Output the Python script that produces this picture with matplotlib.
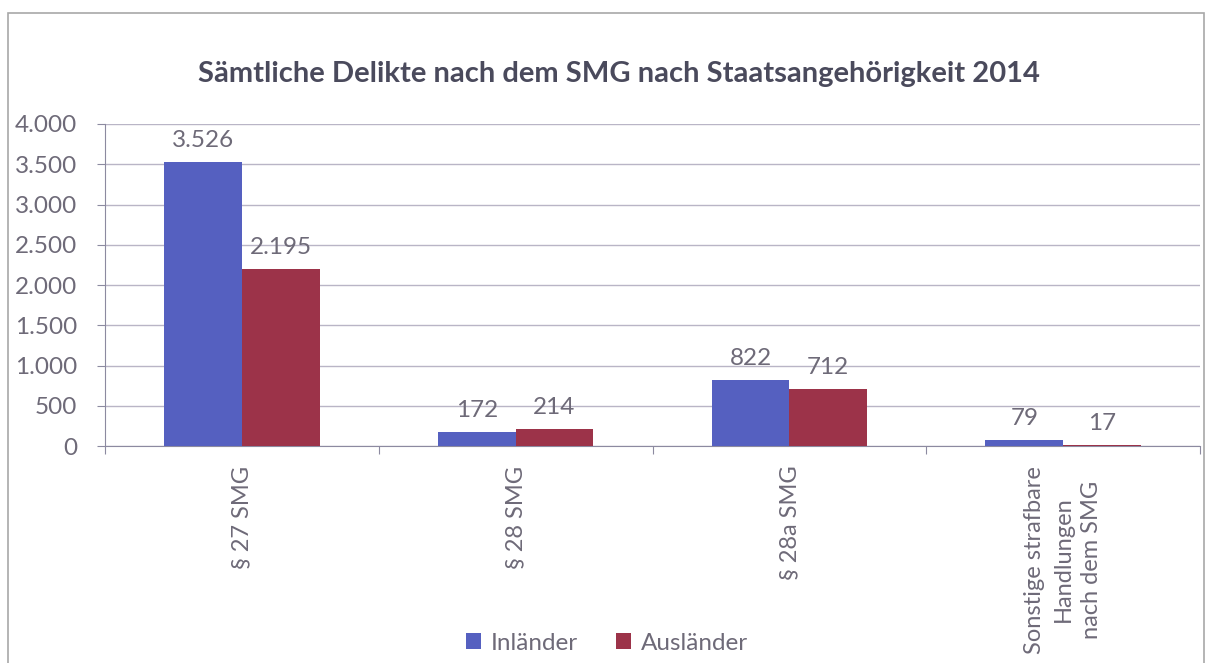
import numpy as np
import matplotlib
matplotlib.use("Agg")
import matplotlib.pyplot as plt
from matplotlib.patches import Rectangle
from matplotlib.ticker import FuncFormatter

categories = ["§ 27 SMG", "§ 28 SMG", "§ 28a SMG",
              "Sonstige strafbare\nHandlungen\nnach dem SMG"]
inlaender = [3526, 172, 822, 79]
auslaender = [2195, 214, 712, 17]
series_names = ["Inländer", "Ausländer"]
title = "Sämtliche Delikte nach dem SMG nach Staatsangehörigkeit 2014"


def de_fmt(v):
    return f"{int(v):,}".replace(",", ".")


def main():
    plt.rcParams["font.family"] = ["Lato", "DejaVu Sans"]
    text_col = "#6e6a78"
    grid_col = "#b9b5c6"
    blue = "#5560c0"
    red = "#9c3349"

    fig = plt.figure(figsize=(12.14, 6.63), dpi=100)
    fig.patches.append(Rectangle((0.007, -0.01), 0.985, 0.99, transform=fig.transFigure,
                                 fill=False, edgecolor="#a8a8a8", linewidth=1.2))
    ax = fig.add_axes([0.0865, 0.327, 0.902, 0.486])

    x = np.arange(len(categories))
    w = 0.284
    ax.bar(x - w / 2, inlaender, w, color=blue, zorder=3, label=series_names[0])
    ax.bar(x + w / 2, auslaender, w, color=red, zorder=3, label=series_names[1])

    for xi, v in zip(x - w / 2, inlaender):
        ax.text(xi, v + 140, de_fmt(v), ha="center", va="bottom", fontsize=17.5, color=text_col)
    for xi, v in zip(x + w / 2, auslaender):
        ax.text(xi, v + 140, de_fmt(v), ha="center", va="bottom", fontsize=17.5, color=text_col)

    ax.set_xlim(-0.5, len(categories) - 0.5)
    ax.set_ylim(0, 4000)
    ax.set_yticks(np.arange(0, 4001, 500))
    ax.yaxis.set_major_formatter(FuncFormatter(lambda v, p: de_fmt(v)))
    ax.grid(axis="y", color=grid_col, linewidth=1, zorder=0)
    ax.set_axisbelow(True)

    ax.set_xticks(np.arange(-0.5, len(categories), 1.0))
    ax.set_xticklabels([])
    ax.set_xticks(x, minor=True)
    ax.set_xticklabels(categories, minor=True, rotation=90, fontsize=17,
                       color=text_col, ha="center", va="top", multialignment="center",
                       linespacing=1.45)
    ax.tick_params(axis="x", which="minor", length=0, pad=14)
    ax.tick_params(axis="x", which="major", length=6, color="#8c8aa0")
    ax.tick_params(axis="y", length=6, color="#8c8aa0", labelsize=17.5, labelcolor=text_col, pad=14)

    for s in ["top", "right"]:
        ax.spines[s].set_visible(False)
    ax.spines["left"].set_color("#8c8aa0")
    ax.spines["bottom"].set_color("#8c8aa0")

    fig.text(0.51, 0.888, title, ha="center", va="center", fontsize=21,
             fontweight="bold", color="#4a4a5c")

    ax.legend(loc="center", bbox_to_anchor=(0.5, 0.03), bbox_transform=fig.transFigure,
              ncol=2, frameon=False, fontsize=17.5, labelcolor=text_col,
              handlelength=0.6, handleheight=0.6, columnspacing=1.6, handletextpad=0.4)

    fig.savefig("out.png", dpi=100)


if __name__ == "__main__":
    main()
